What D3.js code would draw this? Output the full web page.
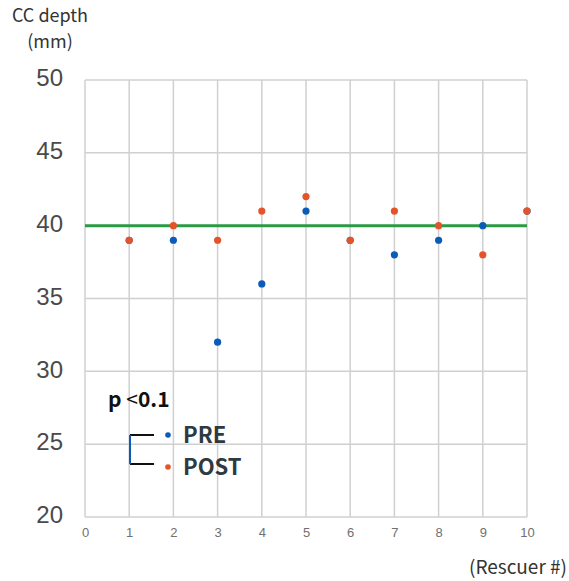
<!DOCTYPE html>
<html>
<head>
<meta charset="utf-8">
<script src="https://cdn.jsdelivr.net/npm/d3@7"></script>
<style>
  body { margin: 0; background: #fff; }
  svg { font-family: "Noto Sans CJK JP", "Noto Sans", sans-serif; }
</style>
</head>
<body>
<svg id="chart" width="569" height="581"></svg>
<script>
const rescuers = [1, 2, 3, 4, 5, 6, 7, 8, 9, 10];
const pre = [39, 39, 32, 36, 41, 39, 38, 39, 40, 41];
const post = [39, 40, 39, 41, 42, 39, 41, 40, 38, 41];
const target = 40;
const xTicks = [0, 1, 2, 3, 4, 5, 6, 7, 8, 9, 10];
const yTicks = [20, 25, 30, 35, 40, 45, 50];

const svg = d3.select('#chart');
const margin = { top: 80, right: 42, bottom: 64, left: 85 };
const width = +svg.attr('width');
const height = +svg.attr('height');

const x = d3.scaleLinear().domain([0, 10]).range([margin.left, width - margin.right]);
const y = d3.scaleLinear().domain([20, 50]).range([height - margin.bottom, margin.top]);

const grid = '#d0d0d0';

// gridlines
svg.append('g')
  .selectAll('line.v')
  .data(xTicks).enter().append('line')
  .attr('x1', d => x(d)).attr('x2', d => x(d))
  .attr('y1', y(50)).attr('y2', y(20))
  .attr('stroke', grid).attr('stroke-width', 1.5);

svg.append('g')
  .selectAll('line.h')
  .data(yTicks).enter().append('line')
  .attr('x1', x(0)).attr('x2', x(10))
  .attr('y1', d => y(d)).attr('y2', d => y(d))
  .attr('stroke', grid).attr('stroke-width', 1.5);

// axes labels
svg.append('g')
  .attr('transform', `translate(0,${y(20)})`)
  .call(d3.axisBottom(x).tickValues(xTicks).tickSize(0).tickPadding(11).tickFormat(d3.format('d')))
  .call(g => g.select('.domain').remove())
  .call(g => g.selectAll('text').attr('fill', '#707070').style('font-size', '13px'));

svg.append('g')
  .attr('transform', `translate(${x(0)},0)`)
  .call(d3.axisLeft(y).tickValues(yTicks).tickSize(0).tickPadding(22))
  .call(g => g.select('.domain').remove())
  .call(g => g.selectAll('text').attr('fill', '#4a4a4a').attr('dy', '0.24em').style('font-size', '24px'));

svg.append('text')
  .attr('x', 50).attr('y', 22)
  .attr('text-anchor', 'middle')
  .attr('fill', '#333').style('font-size', '18px')
  .text('CC depth');
svg.append('text')
  .attr('x', 50).attr('y', 48)
  .attr('text-anchor', 'middle')
  .attr('fill', '#333').style('font-size', '18px')
  .text('(mm)');

svg.append('text')
  .attr('x', 567).attr('y', 574)
  .attr('text-anchor', 'end')
  .attr('fill', '#333').style('font-size', '19px')
  .text('(Rescuer #)');

// target line
svg.append('line')
  .attr('x1', x(0)).attr('x2', x(10))
  .attr('y1', y(target)).attr('y2', y(target))
  .attr('stroke', '#2a9a45').attr('stroke-width', 3);

const blue = '#0b5cb8';
const orange = '#e4532a';

svg.append('g')
  .selectAll('circle')
  .data(rescuers).enter().append('circle')
  .attr('cx', d => x(d)).attr('cy', (d, i) => y(pre[i]))
  .attr('r', 3.6).attr('fill', blue);

svg.append('g')
  .selectAll('circle')
  .data(rescuers).enter().append('circle')
  .attr('cx', d => x(d)).attr('cy', (d, i) => y(post[i]))
  .attr('r', 3.6).attr('fill', orange);

// legend
const lg = svg.append('g');
const ptxt = lg.append('text')
  .attr('x', 108).attr('y', 407)
  .attr('fill', '#111').style('font-size', '21px');
ptxt.append('tspan').attr('font-weight', 'bold').text('p ');
ptxt.append('tspan').attr('font-weight', 'normal').text('<');
ptxt.append('tspan').attr('font-weight', 'bold').text('0.1');

lg.append('line').attr('x1', 130).attr('x2', 154).attr('y1', 435).attr('y2', 435)
  .attr('stroke', '#111').attr('stroke-width', 2);
lg.append('line').attr('x1', 130).attr('x2', 154).attr('y1', 464).attr('y2', 464)
  .attr('stroke', '#111').attr('stroke-width', 2);
lg.append('line').attr('x1', 130).attr('x2', 130).attr('y1', 435).attr('y2', 464)
  .attr('stroke', blue).attr('stroke-width', 2);

const legendItems = [
  { name: 'PRE', color: blue, y: 435 },
  { name: 'POST', color: orange, y: 467 }
];
legendItems.forEach(d => {
  lg.append('circle').attr('cx', 168).attr('cy', d.y).attr('r', 2.8).attr('fill', d.color);
  lg.append('text')
    .attr('x', 183).attr('y', d.y + 8)
    .attr('font-weight', 'bold').attr('fill', '#2d3a3f').style('font-size', '22px')
    .text(d.name);
});
</script>
</body>
</html>
